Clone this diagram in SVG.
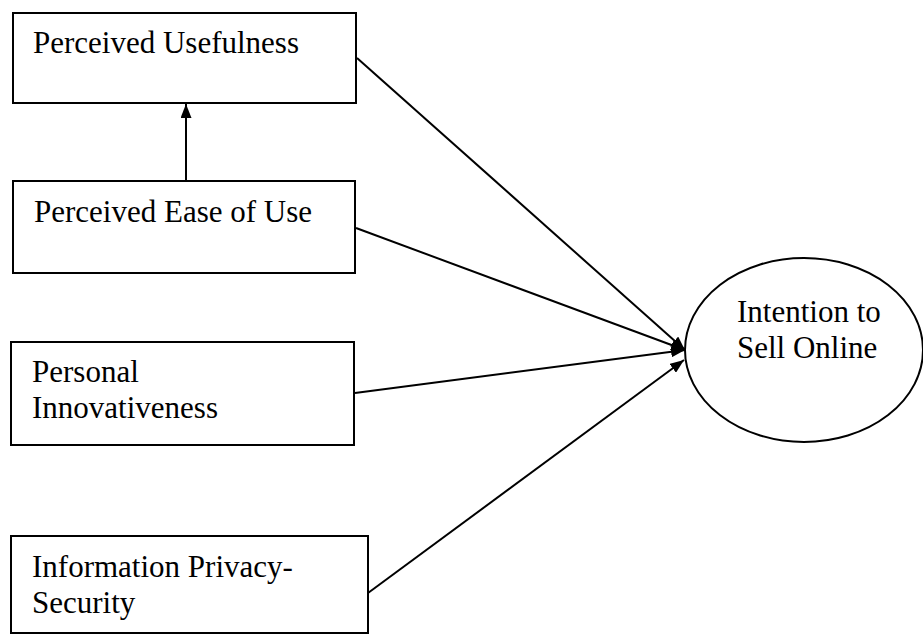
<svg xmlns="http://www.w3.org/2000/svg" width="923" height="635" viewBox="0 0 923 635">
  <style>
    .box { fill: #ffffff; stroke: #000000; stroke-width: 2; }
    .oval { fill: #ffffff; stroke: #000000; stroke-width: 2; }
    .label { font-family: "Liberation Serif", "Times New Roman", serif; font-size: 31px; fill: #000000; }
    .link { stroke: #000000; stroke-width: 2; fill: none; marker-end: url(#head); }
  </style>
  <defs>
    <marker id="head" viewBox="0 0 14 11" refX="14" refY="5.5" markerWidth="14" markerHeight="11" markerUnits="userSpaceOnUse" orient="auto">
      <path d="M0,0 L14,5.5 L0,11 Z" fill="#000000"/>
    </marker>
  </defs>
  <rect width="923" height="635" fill="#ffffff"/>

  <g id="node-usefulness">
    <rect class="box" x="13" y="13" width="343" height="90"/>
    <text class="label" x="33" y="53">Perceived Usefulness</text>
  </g>

  <g id="node-ease">
    <rect class="box" x="13" y="181" width="342" height="92"/>
    <text class="label" x="34" y="222">Perceived Ease of Use</text>
  </g>

  <g id="node-innovativeness">
    <rect class="box" x="11" y="342" width="343" height="103"/>
    <text class="label" x="32" y="382">Personal</text>
    <text class="label" x="32" y="418">Innovativeness</text>
  </g>

  <g id="node-privacy">
    <rect class="box" x="11" y="536" width="357" height="97"/>
    <text class="label" x="32" y="577">Information Privacy-</text>
    <text class="label" x="32" y="613">Security</text>
  </g>

  <g id="node-intention">
    <ellipse class="oval" cx="804" cy="350" rx="119" ry="92"/>
    <text class="label" x="737" y="322">Intention to</text>
    <text class="label" x="737" y="358">Sell Online</text>
  </g>

  <g id="connectors">
    <line class="link" x1="186" y1="181" x2="186" y2="104"/>
    <line class="link" x1="357" y1="58" x2="685" y2="350"/>
    <line class="link" x1="356" y1="228" x2="685" y2="350"/>
    <line class="link" x1="355" y1="393" x2="685" y2="350"/>
    <line class="link" x1="368" y1="593" x2="684" y2="360"/>
  </g>
</svg>
